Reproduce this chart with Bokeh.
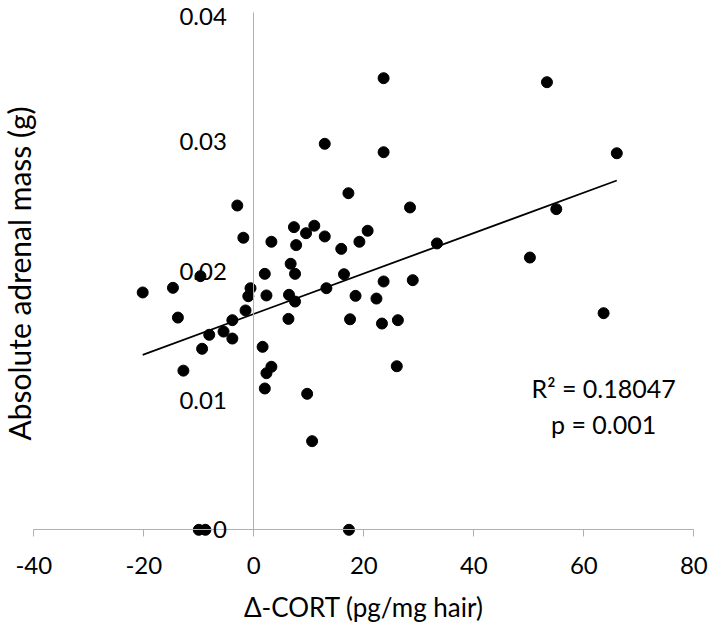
import math
from bokeh.plotting import figure
from bokeh.models import FixedTicker, Label, ColumnDataSource, Range1d
from bokeh.embed import file_html
from bokeh.resources import INLINE

# ---- data ----
cort = [-20.2, -14.7, -13.8, -12.8, -9.7, -9.4, -8.1, -5.5, -3.9, -3.9,
        -3.0, -1.9, -1.5, -1.0, -0.6, 1.6, 2.0, 2.3, 3.2, 2.3,
        2.0, 3.2, 6.7, 7.5, 6.4, 7.5, 6.3, 7.3, 7.7, 9.5,
        11.0, 12.9, 12.9, 9.7, 10.6, 13.2, 15.9, 16.4, 17.2, 18.5,
        17.5, 19.2, 20.7, 22.3, 23.3, 23.6, 23.6, 23.6, 26.2, 26.0,
        28.4, 28.9, 33.3, 50.2, 53.3, 55.0, 63.6, 66.0, -10.0, -8.8,
        17.3]
adrenal = [0.01834, 0.0187, 0.0164, 0.0123, 0.0196, 0.01399, 0.01507, 0.01532, 0.01478, 0.0162,
           0.02506, 0.02257, 0.01695, 0.01805, 0.01867, 0.01414, 0.01978, 0.01811, 0.0126, 0.0121,
           0.01092, 0.02226, 0.02056, 0.01978, 0.01816, 0.01764, 0.0163, 0.02339, 0.022, 0.02292,
           0.0235, 0.02267, 0.02983, 0.01051, 0.00685, 0.01867, 0.02171, 0.01975, 0.02601, 0.01808,
           0.01627, 0.02226, 0.02311, 0.01787, 0.01594, 0.01919, 0.02918, 0.0349, 0.0162, 0.01264,
           0.02491, 0.01929, 0.02213, 0.02104, 0.03459, 0.02478, 0.01674, 0.0291, 0.0, 0.0,
           0.0]
trend_slope = 0.0001563
trend_intercept = 0.01668
x_ticks = [-40, -20, 0, 20, 40, 60, 80]
x_tick_labels = ["-40", "-20", "0", "20", "40", "60", "80"]
y_ticks = [0, 0.01, 0.02, 0.03, 0.04]
y_tick_labels = ["0", "0.01", "0.02", "0.03", "0.04"]
x_title = "\u0394-CORT (pg/mg hair)"
y_title = "Absolute adrenal mass (g)"
stats_lines = ["R\u00b2 = 0.18047", "p = 0.001"]
stats_pos = [(63.6, 0.01092), (63.6, 0.00821)]

# ---- layout (pixels) ----
W, H = 712, 624
X_MIN, X_MAX, Y_MIN, Y_MAX = -40, 80, 0, 0.04
PX_LEFT, PX_RIGHT = 33.3, 693.3      # where x = -40 and x = 80 sit
PX_TOP, PX_BOTTOM = 11.7, 529.3      # where y = 0.04 and y = 0 sit
sx = (PX_RIGHT - PX_LEFT) / (X_MAX - X_MIN)
sy = (PX_BOTTOM - PX_TOP) / (Y_MAX - Y_MIN)
x_range = Range1d(X_MIN - PX_LEFT / sx, X_MAX + (W - PX_RIGHT) / sx)
y_range = Range1d(Y_MIN - (H - PX_BOTTOM) / sy, Y_MAX + PX_TOP / sy)

FONT = "Lato"
TICK_SIZE = "24px"
AXIS_GRAY = "#b0b0b0"
Y_LABEL_STANDOFF = 27

p = figure(width=W, height=H, x_range=x_range, y_range=y_range,
           output_backend="svg", toolbar_location=None, min_border=0)
p.outline_line_color = None
p.grid.visible = False
p.background_fill_color = "white"

# x axis at y = 0
xa = p.xaxis[0]
xa.fixed_location = 0
xa.bounds = (X_MIN, X_MAX)
xa.ticker = FixedTicker(ticks=x_ticks)
xa.major_label_overrides = {t: s for t, s in zip(x_ticks, x_tick_labels)}
xa.axis_line_color = AXIS_GRAY
xa.major_tick_line_color = AXIS_GRAY
xa.major_tick_out = 7
xa.major_tick_in = 0
xa.minor_tick_line_color = None
xa.major_label_text_font = FONT
xa.major_label_text_font_size = TICK_SIZE
xa.major_label_text_color = "black"
xa.major_label_standoff = 20

# y axis at x = 0
ya = p.yaxis[0]
ya.fixed_location = 0
ya.bounds = (Y_MIN, Y_MAX)
ya.ticker = FixedTicker(ticks=y_ticks)
y_over = {t: s for t, s in zip(y_ticks, y_tick_labels)}
y_over[y_ticks[-1]] = ""   # top label drawn below so it stays inside the canvas
ya.major_label_overrides = y_over
ya.axis_line_color = AXIS_GRAY
ya.major_tick_out = 0
ya.major_tick_in = 0
ya.minor_tick_line_color = None
ya.major_label_text_font = FONT
ya.major_label_text_font_size = TICK_SIZE
ya.major_label_text_color = "black"
ya.major_label_standoff = Y_LABEL_STANDOFF

p.add_layout(Label(x=0, x_offset=-Y_LABEL_STANDOFF, y=y_ticks[-1], y_offset=-4,
                   text=y_tick_labels[-1], text_align="right", text_baseline="middle",
                   text_font=FONT, text_font_size=TICK_SIZE, text_color="black"))

# axis titles
p.add_layout(Label(x=(X_MIN + X_MAX) / 2, y=Y_MIN, y_offset=-(606 - PX_BOTTOM), text=x_title,
                   text_align="center", text_baseline="middle",
                   text_font=FONT, text_font_size="26px", text_color="black"))
p.add_layout(Label(x=X_MIN, x_offset=-(PX_LEFT - 18), y=(Y_MIN + Y_MAX) / 2,
                   y_offset=-(273 - (PX_TOP + PX_BOTTOM) / 2),
                   text=y_title, angle=math.pi / 2,
                   text_align="center", text_baseline="middle",
                   text_font=FONT, text_font_size="30px", text_color="black"))

# points
src = ColumnDataSource(dict(x=cort, y=adrenal))
p.scatter("x", "y", source=src, size=11, color="black", marker="circle")

# trend line
tx = [min(cort), max(cort)]
ty = [trend_intercept + trend_slope * v for v in tx]
p.line(tx, ty, line_color="black", line_width=1.8)

for (lx, ly), txt in zip(stats_pos, stats_lines):
    p.add_layout(Label(x=lx, y=ly, text=txt, text_align="center", text_baseline="middle",
                       text_font=FONT, text_font_size="25px", text_color="black"))

open("out.html", "w").write(file_html(p, INLINE))
